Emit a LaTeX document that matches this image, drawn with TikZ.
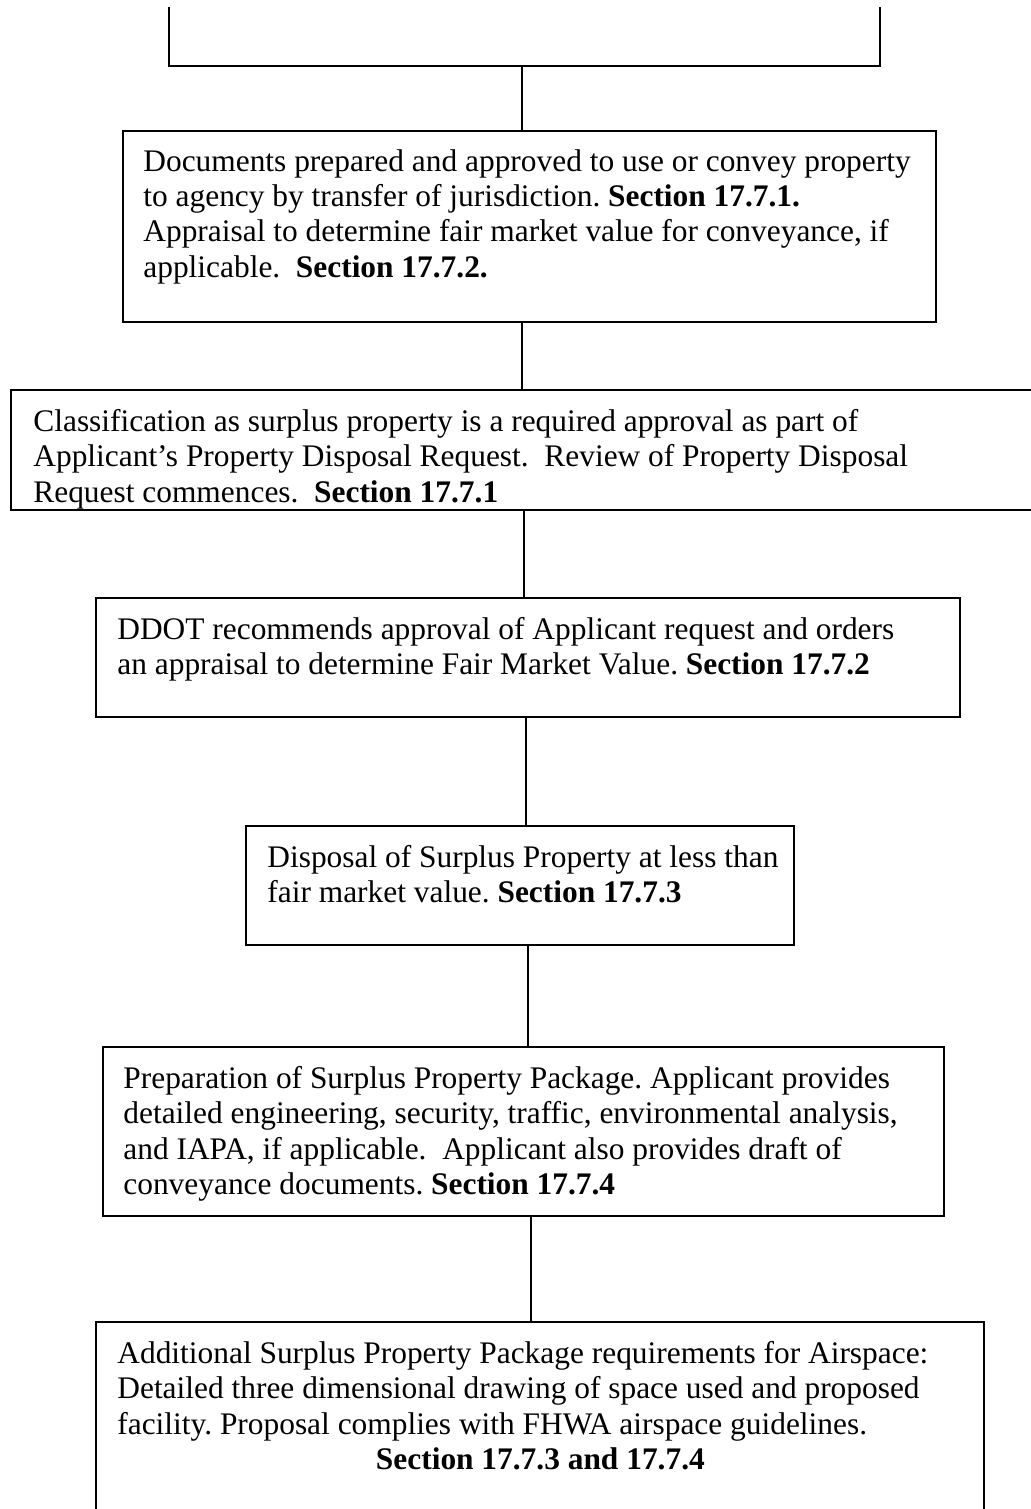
\documentclass[tikz,border=0pt]{standalone}
\usepackage{fontspec}
\setmainfont{Liberation Serif}
\usetikzlibrary{fit}
\begin{document}
\frenchspacing
\begin{tikzpicture}[x=0.5pt,y=-0.5pt,
  stepbox/.style={draw,line width=1.1pt,inner sep=0pt},
  link/.style={line width=0.85pt},
  txt/.style={inner sep=0pt,anchor=north west,align=left,
    font=\fontsize{15.7pt}{17.7pt}\selectfont}]
\useasboundingbox (0,0) rectangle (1031,1509);
\clip (0,0) rectangle (1031,1509);

% bracket joining the branches above
\coordinate (bl) at (169,7);
\coordinate (br) at (880,7);
\coordinate (hub) at (522,66);
\draw[link] (bl) |- (hub) -| (br);

% process boxes
\node[stepbox,fit={(123,131) (936,322)}] (b1) {};
\node[stepbox,fit={(11,390) (1045,510)}] (b2) {};
\node[stepbox,fit={(96,598) (960,717)}] (b3) {};
\node[stepbox,fit={(246,826) (794,945)}] (b4) {};
\node[stepbox,fit={(103,1047) (944,1216)}] (b5) {};
\node[stepbox,fit={(96,1322) (984,1530)}] (b6) {};

% box texts
\node[txt] (t1) at (143,149) {Documents prepared and approved to use or convey property\\
to agency by transfer of jurisdiction. \textbf{Section 17.7.1.}\\
Appraisal to determine fair market value for conveyance, if\\
applicable.\ \ \textbf{Section 17.7.2.}};
\node[txt] (t2) at (33,409) {Classification as surplus property is a required approval as part of\\
Applicant’s Property Disposal Request.\ \ Review of Property Disposal\\
Request commences.\ \ \textbf{Section 17.7.1}};
\node[txt] (t3) at (117,617) {DDOT recommends approval of Applicant request and orders\\
an appraisal to determine Fair Market Value. \textbf{Section 17.7.2}};
\node[txt] (t4) at (267,845) {Disposal of Surplus Property at less than\\
fair market value. \textbf{Section 17.7.3}};
\node[txt] (t5) at (123,1066) {Preparation of Surplus Property Package. Applicant provides\\
detailed engineering, security, traffic, environmental analysis,\\
and IAPA, if applicable.\ \ Applicant also provides draft of\\
conveyance documents. \textbf{Section 17.7.4}};
\node[txt] (t6) at (117,1341) {Additional Surplus Property Package requirements for Airspace:\\
Detailed three dimensional drawing of space used and proposed\\
facility. Proposal complies with FHWA airspace guidelines.\\
\makebox[423pt][c]{\textbf{Section 17.7.3 and 17.7.4}}};

% connectors between successive boxes
\draw[link] (hub) -- (hub |- b1.north);
\draw[link] (522,0 |- b1.south) -- (522,0 |- b2.north);
\draw[link] (524,0 |- b2.south) -- (524,0 |- b3.north);
\draw[link] (526,0 |- b3.south) -- (526,0 |- b4.north);
\draw[link] (528,0 |- b4.south) -- (528,0 |- b5.north);
\draw[link] (531,0 |- b5.south) -- (531,0 |- b6.north);
\end{tikzpicture}
\end{document}
